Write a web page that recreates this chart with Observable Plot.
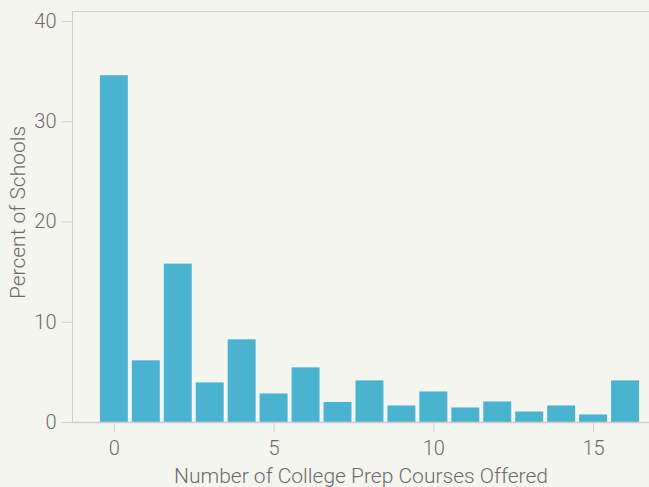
<!DOCTYPE html>
<html><head><meta charset="utf-8">
<script src="https://cdn.jsdelivr.net/npm/d3@7"></script>
<script src="https://cdn.jsdelivr.net/npm/@observablehq/plot@0.6"></script>
<style>
html,body{margin:0;padding:0;background:#f5f5f0;}
#chart{width:649px;height:487px;overflow:hidden;}
</style></head><body><div id="chart"></div>
<script>
const courses = [0,1,2,3,4,5,6,7,8,9,10,11,12,13,14,15,16];
const percent = [34.6,6.15,15.8,3.95,8.25,2.85,5.45,2.0,4.15,1.65,3.05,1.45,2.05,1.05,1.65,0.75,4.15];
const xTicks = [0,5,10,15];
const yTicks = [0,10,20,30,40];
const xDomain = [-1.31,16.75];
const yDomain = [0,41];
const xLabel = "Number of College Prep Courses Offered";
const yLabel = "Percent of Schools";
const data = courses.map((c,i)=>({courses:c, percent:percent[i]}));
const font = "Roboto, 'Liberation Sans', sans-serif";
const lineColor = "#cdcdcd";
const textColor = "#6b6b6b";
const chart = Plot.plot({
  width:649, height:487, marginLeft:72, marginTop:11, marginBottom:65, marginRight:0,
  style:{background:"#f5f5f0", fontFamily:font, fontSize:"20px", fontWeight:300, color:textColor, overflow:"visible"},
  x:{domain:xDomain},
  y:{domain:yDomain},
  marks:[
    Plot.rectY(data,{x1:d=>d.courses-0.5, x2:d=>d.courses+0.5, y:"percent", fill:"#4ab3d0", insetLeft:2, insetRight:2}),
    Plot.ruleY([yDomain[1]],{stroke:lineColor}),
    Plot.ruleY([0],{stroke:lineColor, strokeWidth:1.6}),
    Plot.ruleX([xDomain[0]],{stroke:lineColor}),
    Plot.axisY({ticks:yTicks, tickSize:10, tickPadding:6, stroke:lineColor, fill:textColor, label:null}),
    Plot.axisX({ticks:xTicks, tickSize:10, tickPadding:8, stroke:lineColor, fill:textColor, label:null}),
    Plot.text([xLabel], {frameAnchor:"bottom", lineAnchor:"bottom", textAnchor:"middle", dy:60, fontSize:21, fill:textColor}),
    Plot.text([yLabel], {frameAnchor:"left", rotate:-90, lineAnchor:"bottom", textAnchor:"middle", dx:-48, dy:-4.5, fontSize:21, fill:textColor})
  ]
});
document.getElementById("chart").appendChild(chart);
</script></body></html>
